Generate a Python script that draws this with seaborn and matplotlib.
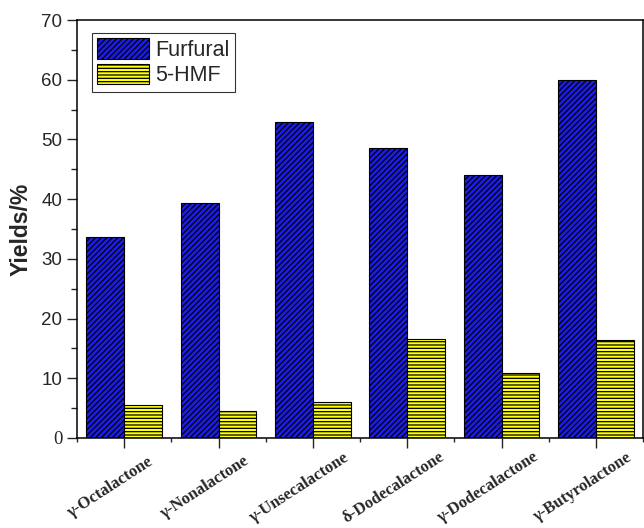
import pandas as pd
import matplotlib.pyplot as plt
import seaborn as sns
from matplotlib.ticker import MultipleLocator, FixedLocator
from matplotlib.transforms import ScaledTranslation

plt.switch_backend('Agg')

# Data
catalysts = ['γ-Octalactone', 'γ-Nonalactone', 'γ-Unsecalactone',
             'δ-Dodecalactone', 'γ-Dodecalactone', 'γ-Butyrolactone']
furfural = [33.7, 39.4, 53.0, 48.5, 44.1, 60.0]
hmf = [5.5, 4.6, 6.1, 16.6, 10.8, 16.4]
products = ['Furfural', '5-HMF']

df = pd.DataFrame({
    'Catalyst': catalysts * 2,
    'Yield': furfural + hmf,
    'Product': [products[0]] * len(catalysts) + [products[1]] * len(catalysts),
})

sns.set_style('ticks')
plt.rcParams['font.family'] = ['Liberation Sans', 'DejaVu Sans']
plt.rcParams['hatch.linewidth'] = 0.9

fig = plt.figure(figsize=(6.44, 5.28), dpi=100)
ax = fig.add_axes([0.1196, 0.1705, 0.8790, 0.7915])

palette = {'Furfural': '#1c1ce6', '5-HMF': '#ffff14'}
sns.barplot(data=df, x='Catalyst', y='Yield', hue='Product', palette=palette,
            width=0.8, edgecolor='black', linewidth=0.8, saturation=1,
            ax=ax, legend=False)

hatches = {'Furfural': '//////', '5-HMF': '-----'}
for container, name in zip(ax.containers, products):
    for bar in container:
        bar.set_hatch(hatches[name])
        bar.set_edgecolor('black')

ax.set_xlim(-0.5, 5.5)
ax.set_ylim(0, 70)
ax.yaxis.set_major_locator(MultipleLocator(10))
ax.yaxis.set_minor_locator(MultipleLocator(5))
ax.xaxis.set_minor_locator(FixedLocator([i - 0.5 for i in range(len(catalysts) + 1)]))

ax.tick_params(axis='y', which='major', direction='out', length=7, width=1,
               pad=3.5, labelsize=13.5)
ax.tick_params(axis='y', which='minor', direction='out', length=4, width=1)
ax.tick_params(axis='x', which='major', direction='out', length=7, width=1, pad=0)
ax.tick_params(axis='x', which='minor', direction='out', length=3, width=1)

# labels are centred a little left of and below their ticks
ax.set_xticks(range(len(catalysts)))
ax.set_xticklabels(catalysts, rotation=33, ha='center', va='center',
                   rotation_mode='anchor', fontfamily='Liberation Serif',
                   fontweight='bold', fontsize=12)
shift = ScaledTranslation(-14 / 100, -40 / 100, fig.dpi_scale_trans)
for lbl in ax.get_xticklabels():
    lbl.set_transform(lbl.get_transform() + shift)

ax.set_xlabel('')
ax.set_ylabel('Yields/%', fontsize=16.5, fontweight='bold', labelpad=6)

for side in ['top', 'right', 'left', 'bottom']:
    ax.spines[side].set_visible(True)
    ax.spines[side].set_linewidth(1.1)
    ax.spines[side].set_color('black')

handles = [c.patches[0] for c in ax.containers]
leg = ax.legend(handles, products, loc='upper left', bbox_to_anchor=(0.026, 0.969),
                fontsize=15.5, frameon=True, fancybox=False, edgecolor='black',
                handlelength=2.4, handleheight=1.1, handletextpad=0.3,
                borderpad=0.25, labelspacing=0.12, borderaxespad=0)
leg.get_frame().set_linewidth(0.8)

# the zero label is drawn in a serif face in the original
fig.canvas.draw()
for tick in ax.yaxis.get_major_ticks():
    if abs(tick.get_loc()) < 1e-9:
        tick.label1.set_fontfamily('Liberation Serif')

plt.savefig('out.png', dpi=100)
plt.close()
